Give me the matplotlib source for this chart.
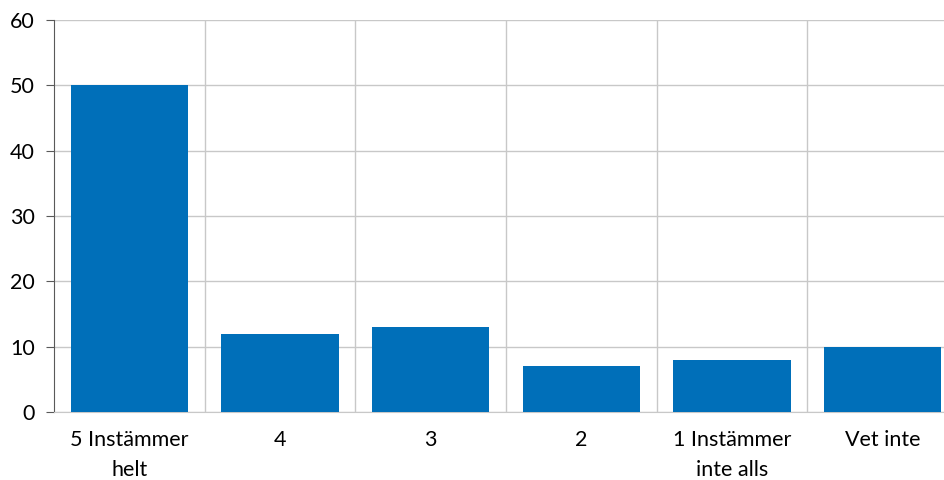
import matplotlib
matplotlib.use('Agg')
import matplotlib.pyplot as plt
from matplotlib.ticker import FixedLocator

categories = ['5 Instämmer\nhelt', '4', '3', '2', '1 Instämmer\ninte alls', 'Vet inte']
values = [50, 12, 13, 7, 8, 10]
yticks = [0, 10, 20, 30, 40, 50, 60]

plt.rcParams['font.family'] = ['Lato', 'DejaVu Sans']

fig = plt.figure(figsize=(9.44, 4.8), dpi=100)
ax = fig.add_axes([54 / 944, 1 - 412 / 480, 904 / 944, 392 / 480])

x = list(range(len(categories)))
ax.bar(x, values, width=0.78, color='#006FB9', zorder=3)

ax.set_ylim(0, 60)
ax.set_yticks(yticks)
ax.set_xlim(-0.5, 5.5)
ax.set_xticks(x)
ax.set_xticklabels(categories, linespacing=1.65)
ax.xaxis.set_minor_locator(FixedLocator([i + 0.5 for i in range(5)]))

ax.grid(axis='y', color='#C8C8C8', linewidth=1, zorder=0)
ax.grid(axis='x', which='minor', color='#C8C8C8', linewidth=1, zorder=0)

for s in ['top', 'right']:
    ax.spines[s].set_visible(False)
ax.spines['left'].set_color('#595959')
ax.spines['bottom'].set_color('#C8C8C8')
ax.tick_params(axis='y', length=6, color='#595959', labelsize=15.5, pad=8)
ax.tick_params(axis='x', which='both', length=0, labelsize=15.5, pad=13)

fig.savefig('out.png', dpi=100)
